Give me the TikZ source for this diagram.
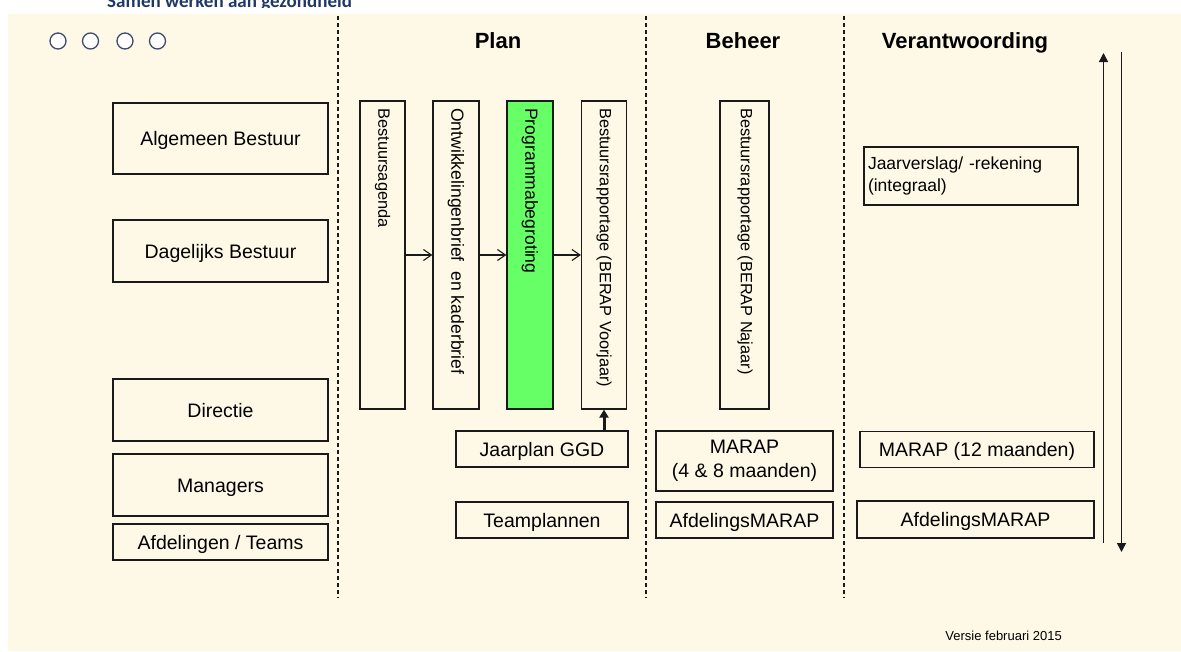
\documentclass[tikz,border=0pt]{standalone}
\usepackage{fontspec}
\setmainfont{Liberation Sans}
\newfontfamily\carl{Carlito}
\usetikzlibrary{arrows.meta}
\definecolor{cream}{HTML}{FEF8E7}
\definecolor{navy}{HTML}{1F3864}
\definecolor{ink}{HTML}{1A1A1A}
\definecolor{grn}{HTML}{66FF66}
\definecolor{circ}{HTML}{3F4B6E}
\begin{document}
\begin{tikzpicture}[x=1pt,y=-1pt,
  bx/.style={draw=ink, line width=1.2pt, fill=cream, inner sep=0pt, align=center,
    font=\fontsize{19.5}{23.5}\selectfont},
  one/.style={text height=16pt, text depth=2pt},
  vbox/.style={draw=ink, line width=1.2pt, fill=cream, inner sep=0pt, minimum height=308pt},
  vtxt/.style={rotate=-90, anchor=west, inner sep=0pt},
  ttl/.style={font=\bfseries\fontsize{22}{26}\selectfont, inner sep=0pt, anchor=base},
  sep/.style={dash pattern=on 4pt off 3pt, line width=1.1pt, draw=ink},
  flow/.style={-{Straight Barb[length=8pt,width=11pt,line width=1.1pt]}, line width=1.1pt, draw=ink},
  feed/.style={-{Triangle[length=8pt,width=9pt]}, line width=3pt, draw=ink},
  cycle/.style={-{Triangle[length=9pt,width=9pt]}, line width=1.5pt, draw=ink},
  dot/.style={circle, draw=circ, line width=1.3pt, fill=white, minimum size=16pt, inner sep=0pt}
]
\useasboundingbox (0,0) rectangle (1181,651);
\clip (0,0) rectangle (1181,651);
\fill[white] (0,0) rectangle (1181,651);
\fill[cream] (8,14) rectangle (1181,651);

% clipped header text
\begin{scope}
\clip (0,0) rectangle (1181,7.6);
\node[anchor=base west, inner sep=0pt, text=navy, font=\carl\bfseries\fontsize{19}{22}\selectfont] (hdr) at (107,7.3) {Samen werken aan gezondheid};
\end{scope}

% circles
\node[dot] (c1) at (58,41) {};
\node[dot] (c2) at (90.5,41) {};
\node[dot] (c3) at (125,41) {};
\node[dot] (c4) at (157.5,41) {};

% column titles
\node[ttl] (tplan) at (498,48) {Plan};
\node[ttl] (tbeh) at (743,48) {Beheer};
\node[ttl] (tver) at (965,48) {Verantwoording};

% separators
\coordinate (s1t) at (338,16); \coordinate (s1b) at (338,598);
\coordinate (s2t) at (646,16); \coordinate (s2b) at (646,598);
\coordinate (s3t) at (844,16); \coordinate (s3b) at (844,598);
\draw[sep] (s1t) -- (s1b);
\draw[sep] (s2t) -- (s2b);
\draw[sep] (s3t) -- (s3b);

% left column
\node[bx, one, minimum width=215pt, minimum height=71pt] (ab) at (220.5,138.5) {Algemeen Bestuur};
\node[bx, one, minimum width=215pt, minimum height=62pt] (db) at (220.5,251) {Dagelijks Bestuur};
\node[bx, one, minimum width=215pt, minimum height=62pt] (di) at (220.5,410) {Directie};
\node[bx, one, minimum width=215pt, minimum height=62pt] (ma) at (220.5,485) {Managers};
\node[bx, one, minimum width=215pt, minimum height=36pt] (at) at (220.5,542) {Afdelingen / Teams};

% vertical boxes
\node[vbox, minimum width=45pt] (ba) at (382.5,255) {};
\node[vbox, minimum width=46pt] (ob) at (456,255) {};
\node[vbox, minimum width=46pt, fill=grn] (pb) at (530,255) {};
\node[vbox, minimum width=45pt] (br) at (604,255) {};
\node[vbox, minimum width=49pt] (bn) at (744.5,255) {};

\node[vtxt, font=\fontsize{16.4}{19}\selectfont] (bat) at (382.5,108) {Bestuursagenda};
\node[vtxt, font=\fontsize{17.6}{20}\selectfont] (obt) at (456,108) {Ontwikkelingenbrief\ \ en kaderbrief};
\node[vtxt, font=\fontsize{17.6}{20}\selectfont] (pbt) at (530,108) {Programmabegroting};
\node[vtxt, font=\fontsize{16.3}{19}\selectfont] (brt) at (604,108) {Bestuursrapportage (BERAP Voorjaar)};
\node[vtxt, font=\fontsize{16.3}{19}\selectfont] (bnt) at (745,108) {Bestuursrapportage (BERAP Najaar)};

\draw[flow] (ba.east) -- (ob.west);
\draw[flow] (ob.east) -- (pb.west);
\draw[flow] (pb.east) -- (br.west);

% bottom boxes
\node[bx, one, minimum width=172pt, minimum height=36pt] (jp) at (542,449) {Jaarplan GGD};
\node[bx, one, minimum width=172pt, minimum height=36pt] (tp) at (542,520) {Teamplannen};
\node[bx, minimum width=177pt, minimum height=60pt] (m48) at (744.5,461) {MARAP\\(4 \& 8 maanden)};
\node[bx, one, minimum width=177pt, minimum height=36pt] (am1) at (744.5,520) {AfdelingsMARAP};
\node[bx, one, minimum width=234pt, minimum height=36pt] (m12) at (977,449.5) {MARAP (12 maanden)};
\node[bx, one, minimum width=237pt, minimum height=37pt] (am2) at (975.5,519.5) {AfdelingsMARAP};
\node[bx, minimum width=214pt, minimum height=58pt, text width=206pt, align=left,
  font=\fontsize{17.5}{21.5}\selectfont] (jv) at (971,176) {Jaarverslag/ -rekening\\(integraal)};

\draw[feed] (br.south |- jp.north) -- (br.south);

% cycle arrows
\coordinate (upb) at (1103.5,543);
\coordinate (upt) at (1103.5,53);
\coordinate (dnt) at (1121.5,52);
\coordinate (dnb) at (1121.5,552);
\draw[cycle] (upb) -- (upt);
\draw[cycle] (dnt) -- (dnb);

\node[inner sep=0pt, font=\fontsize{13}{15}\selectfont] (ver) at (1003.6,636) {Versie februari 2015};
\end{tikzpicture}
\end{document}
